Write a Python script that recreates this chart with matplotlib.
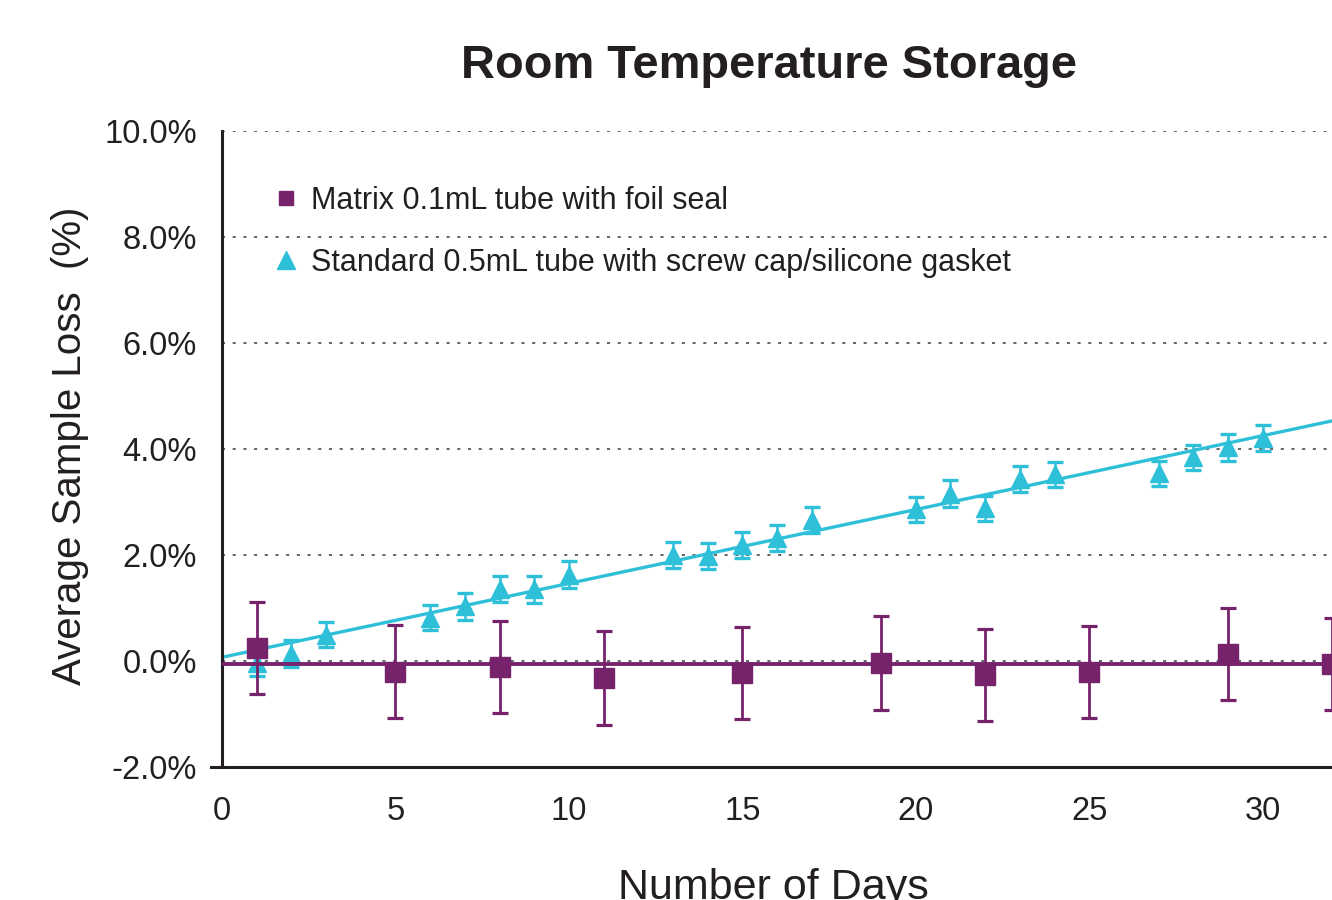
import matplotlib
matplotlib.use("Agg")
import matplotlib.pyplot as plt
from matplotlib.lines import Line2D
from matplotlib.ticker import FuncFormatter

# ---- data ----
matrix_days = [1, 5, 8, 11, 15, 19, 22, 25, 29, 32]
matrix_loss = [0.24, -0.20, -0.12, -0.32, -0.23, -0.04, -0.26, -0.21, 0.13, -0.06]
matrix_err = [0.87, 0.87, 0.87, 0.88, 0.87, 0.88, 0.87, 0.87, 0.87, 0.87]

standard_days = [1, 2, 3, 6, 7, 8, 9, 10, 13, 14, 15, 16, 17, 20, 21, 22, 23, 24, 27, 28, 29, 30]
standard_loss = [-0.03, 0.14, 0.50, 0.82, 1.03, 1.36, 1.35, 1.63, 2.00, 1.98, 2.19, 2.32,
                 2.66, 2.86, 3.16, 2.88, 3.43, 3.52, 3.54, 3.84, 4.03, 4.21]
standard_err = [0.25, 0.25, 0.24, 0.24, 0.25, 0.24, 0.25, 0.25, 0.24, 0.24, 0.24, 0.24,
                0.25, 0.24, 0.25, 0.24, 0.25, 0.24, 0.24, 0.24, 0.25, 0.24]

trend_days = [0, 32]
matrix_trend = [-0.06, -0.06]
standard_trend = [0.07, 4.53]

x_ticks = [0, 5, 10, 15, 20, 25, 30]
y_ticks = [-2, 0, 2, 4, 6, 8, 10]

labels = ["Matrix 0.1mL tube with foil seal",
          "Standard 0.5mL tube with screw cap/silicone gasket"]
title = "Room Temperature Storage"
xlabel = "Number of Days"
ylabel = "Average Sample Loss  (%)"

# ---- style ----
PURPLE = "#76236c"
CYAN = "#2ebfd9"
DARK = "#231f20"
plt.rcParams["font.family"] = ["Liberation Sans", "DejaVu Sans"]

W, H = 1332, 900
fig = plt.figure(figsize=(W / 100, H / 100), dpi=100)
ax = fig.add_axes([222 / W, (H - 767) / H, (W - 222) / W, (767 - 131) / H])

ax.set_xlim(0, 32)
ax.set_ylim(-2, 10)
ax.set_xticks(x_ticks)
ax.set_yticks(y_ticks)
ax.yaxis.set_major_formatter(FuncFormatter(lambda v, p: f"{v:.1f}%"))
ax.tick_params(axis="both", length=0, labelsize=23.5, colors=DARK)
ax.tick_params(axis="y", pad=18)
ax.tick_params(axis="x", pad=21)

for s in ["top", "right"]:
    ax.spines[s].set_visible(False)
for s in ["left", "bottom"]:
    ax.spines[s].set_color(DARK)
    ax.spines[s].set_linewidth(2.2)
ax.spines["bottom"].set_bounds(-0.33, 32)

ax.set_axisbelow(True)
ax.yaxis.grid(True, linestyle=(0, (2, 5)), color="#3a3a3a", linewidth=1.1)

# standard series
ax.plot(trend_days, standard_trend, color=CYAN, lw=2.4, zorder=2)
ax.errorbar(standard_days, standard_loss, yerr=standard_err, fmt="^", color=CYAN,
            markersize=12.5, elinewidth=1.8, capsize=6, capthick=2.4, zorder=3)

# matrix series
ax.plot(trend_days, matrix_trend, color=PURPLE, lw=2.8, zorder=4)
ax.errorbar(matrix_days, matrix_loss, yerr=matrix_err, fmt="s", color=PURPLE,
            markersize=14.5, elinewidth=2.0, capsize=6, capthick=2.3, zorder=5)

# legend
handles = [Line2D([], [], marker="s", color=PURPLE, linestyle="none", markersize=10.5),
           Line2D([], [], marker="^", color=CYAN, linestyle="none", markersize=13)]
leg = ax.legend(handles, labels, loc="upper left",
                bbox_to_anchor=(273 / W, 1 - 186 / H), bbox_transform=fig.transFigure,
                frameon=False, fontsize=22, handlelength=0.85, handletextpad=0.4,
                labelspacing=1.05, borderpad=0, borderaxespad=0)
for t in leg.get_texts():
    t.set_color(DARK)

fig.text(769 / W, 1 - 66 / H, title, ha="center", va="center", fontsize=33.8,
         fontweight="bold", color=DARK)
fig.text(773 / W, 1 - 899 / H, xlabel, ha="center", va="baseline", fontsize=31, color=DARK)
fig.text(70 / W, 1 - 446 / H, ylabel, ha="center", va="center", rotation=90,
         fontsize=29, color=DARK)

fig.savefig("out.png", dpi=100)
